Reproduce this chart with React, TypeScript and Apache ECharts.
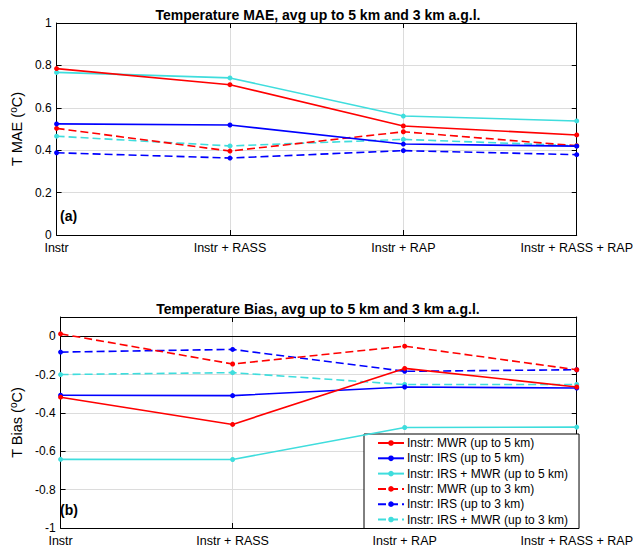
import React, { useEffect, useRef } from "react";
import * as echarts from "echarts";

const categories = ["Instr", "Instr + RASS", "Instr + RAP", "Instr + RASS + RAP"];

const seriesNames = [
  "Instr: MWR (up to 5 km)",
  "Instr: IRS (up to 5 km)",
  "Instr: IRS + MWR (up to 5 km)",
  "Instr: MWR (up to 3 km)",
  "Instr: IRS (up to 3 km)",
  "Instr: IRS + MWR (up to 3 km)",
];

// Temperature MAE
const maeMWR5 = [0.785, 0.709, 0.514, 0.472];
const maeIRS5 = [0.524, 0.519, 0.429, 0.419];
const maeIRSMWR5 = [0.767, 0.741, 0.561, 0.538];
const maeMWR3 = [0.503, 0.396, 0.487, 0.421];
const maeIRS3 = [0.388, 0.363, 0.398, 0.379];
const maeIRSMWR3 = [0.466, 0.42, 0.451, 0.421];

// Temperature Bias
const biasMWR5 = [-0.318, -0.46, -0.168, -0.265];
const biasIRS5 = [-0.308, -0.31, -0.265, -0.27];
const biasIRSMWR5 = [-0.642, -0.643, -0.476, -0.474];
const biasMWR3 = [0.012, -0.145, -0.052, -0.175];
const biasIRS3 = [-0.083, -0.069, -0.183, -0.175];
const biasIRSMWR3 = [-0.2, -0.19, -0.252, -0.252];

const maeData = [maeMWR5, maeIRS5, maeIRSMWR5, maeMWR3, maeIRS3, maeIRSMWR3];
const biasData = [biasMWR5, biasIRS5, biasIRSMWR5, biasMWR3, biasIRS3, biasIRSMWR3];

const colors = ["#ff0000", "#0000ff", "#3fdddd", "#ff0000", "#0000ff", "#3fdddd"];
const dashed = [false, false, false, true, true, true];

const FONT = "Liberation Sans, Arial, sans-serif";
const GRIDCOLOR = "#dcdcdc";

function fmt(v: number) {
  const r = Math.round(v * 10) / 10;
  return String(r);
}

export default function App() {
  const ref = useRef<HTMLDivElement>(null);
  useEffect(() => {
    if (!ref.current) return;
    const chart = echarts.init(ref.current, undefined, { renderer: "svg" });

    const grids = [
      { left: 54, right: 58, top: 23, height: 212 },
      { left: 54, right: 58, top: 317, height: 211 },
    ];

    const mkX = (gi: number, pos: "bottom" | "top") => ({
      type: "category",
      gridIndex: gi,
      position: pos,
      data: categories,
      boundaryGap: false,
      axisLine: { show: true, onZero: false, lineStyle: { color: "#000", width: 1 } },
      axisTick: { show: true, inside: true, length: 5, lineStyle: { color: "#000" } },
      axisLabel: {
        show: pos === "bottom",
        color: "#000",
        fontFamily: FONT,
        fontSize: 12.5,
        margin: 6,
        interval: 0,
      },
      splitLine: { show: pos === "bottom", lineStyle: { color: GRIDCOLOR, width: 1 } },
    });

    const nameRich = {
      n: { fontFamily: FONT, fontSize: 14.5, color: "#000" },
      s: { fontFamily: FONT, fontSize: 10, color: "#000", verticalAlign: "top", padding: [0, 0, 7, 0] },
    };

    const mkY = (gi: number, pos: "left" | "right", min: number, max: number, name?: string, gap?: number) => ({
      type: "value",
      gridIndex: gi,
      position: pos,
      min,
      max,
      interval: 0.2,
      name: pos === "left" ? name : undefined,
      nameLocation: "middle",
      nameRotate: 90,
      nameGap: gap,
      nameTextStyle: { rich: nameRich },
      axisLine: { show: true, lineStyle: { color: "#000", width: 1 } },
      axisTick: { show: true, inside: true, length: 5, lineStyle: { color: "#000" } },
      axisLabel: {
        show: pos === "left",
        color: "#000",
        fontFamily: FONT,
        fontSize: 12,
        margin: 5,
        showMaxLabel: max === 1,
        formatter: (v: number) => fmt(v),
      },
      splitLine: { show: pos === "left", lineStyle: { color: GRIDCOLOR, width: 1 } },
    });

    const series: any[] = [];
    [maeData, biasData].forEach((dataset, gi) => {
      dataset.forEach((d, i) => {
        series.push({
          type: "line",
          name: seriesNames[i],
          xAxisIndex: gi * 2,
          yAxisIndex: gi * 2,
          data: d,
          color: colors[i],
          symbol: "circle",
          symbolSize: 5,
          showSymbol: true,
          lineStyle: { width: 1.6, color: colors[i], type: dashed[i] ? [8, 4] : "solid" },
          itemStyle: { color: colors[i] },
          z: 3 + (5 - i),
        });
      });
    });
    series.push({
      type: "line",
      name: "zero",
      xAxisIndex: 2,
      yAxisIndex: 2,
      data: [],
      markLine: {
        silent: true,
        symbol: "none",
        label: { show: false },
        lineStyle: { color: "#000", width: 1, type: "solid" },
        data: [{ yAxis: 0 }],
      },
    });

    chart.setOption({
      animation: false,
      backgroundColor: "#fff",
      title: [
        {
          text: "Temperature MAE, avg up to 5 km and 3 km a.g.l.",
          left: "center",
          top: 3,
          textStyle: { fontFamily: FONT, fontSize: 14, fontWeight: "bold", color: "#000" },
        },
        {
          text: "Temperature Bias, avg up to 5 km and 3 km a.g.l.",
          left: "center",
          top: 297,
          textStyle: { fontFamily: FONT, fontSize: 14, fontWeight: "bold", color: "#000" },
        },
      ],
      grid: grids,
      xAxis: [mkX(0, "bottom"), mkX(0, "top"), mkX(1, "bottom"), mkX(1, "top")],
      yAxis: [
        mkY(0, "left", 0, 1, "{n|T MAE (}{s|o}{n|C)}", 25),
        mkY(0, "right", 0, 1),
        mkY(1, "left", -1, 0.1, "{n|T Bias (}{s|o}{n|C)}", 29),
        mkY(1, "right", -1, 0.1),
      ],
      legend: {
        data: seriesNames,
        orient: "vertical",
        left: 364,
        top: 434,
        padding: [2, 11, 2, 13],
        itemGap: 1.3,
        itemWidth: 26,
        itemHeight: 7,
        backgroundColor: "#fff",
        borderColor: "#000",
        borderWidth: 1,
        borderRadius: 0,
        textStyle: { fontFamily: FONT, fontSize: 12, color: "#000", lineHeight: 14, padding: [0, 0, 0, -2] },
        selectedMode: false,
      },
      graphic: [
        {
          type: "text",
          left: 60,
          top: 209,
          style: { text: "(a)", font: "bold 14px Liberation Sans, Arial, sans-serif", fill: "#000" },
        },
        {
          type: "text",
          left: 60,
          top: 503,
          style: { text: "(b)", font: "bold 14px Liberation Sans, Arial, sans-serif", fill: "#000" },
        },
      ],
      series,
    });

    return () => chart.dispose();
  }, []);

  return (
    <div
      ref={ref}
      style={{ position: "fixed", left: 0, top: 0, width: 636, height: 549, background: "#fff" }}
    />
  );
}
